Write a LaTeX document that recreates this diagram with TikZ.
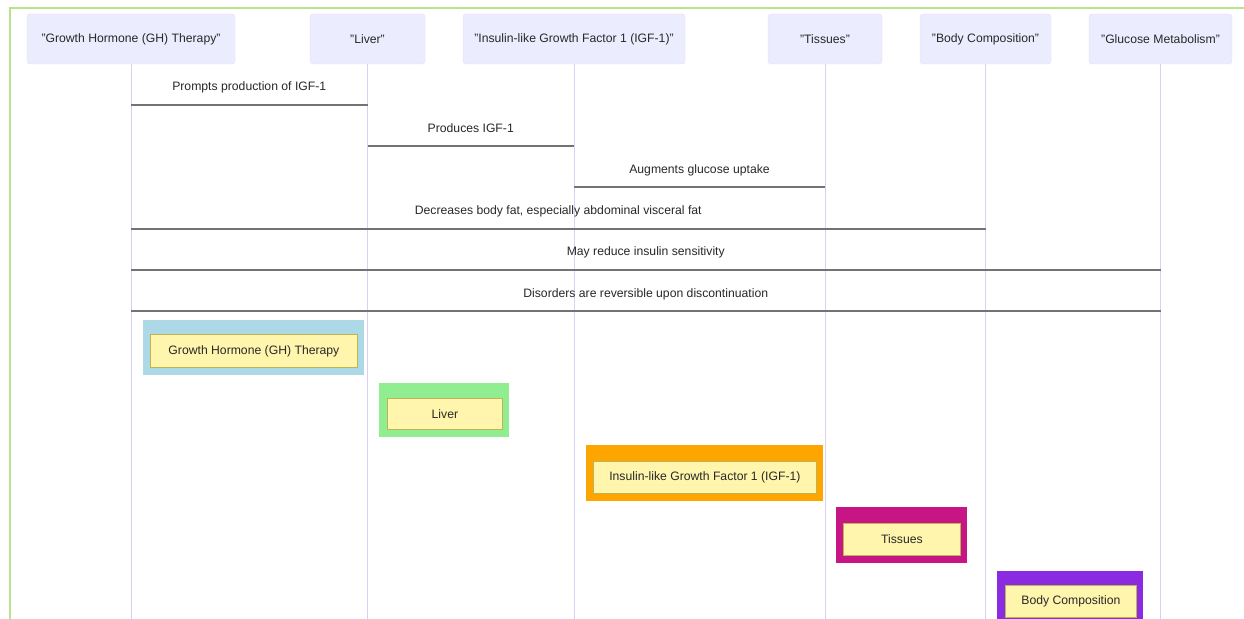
\documentclass[tikz,border=0pt]{standalone}
\usepackage{fontspec}
\setmainfont{Liberation Sans}
\definecolor{actorfill}{RGB}{236,236,255}
\definecolor{actorline}{RGB}{226,226,250}
\definecolor{lifeline}{RGB}{218,208,245}
\definecolor{msgline}{RGB}{115,115,115}
\definecolor{frame}{RGB}{184,226,140}
\definecolor{notefill}{RGB}{255,245,173}
\definecolor{noteline}{RGB}{190,180,80}
\definecolor{cblue}{RGB}{173,216,230}
\definecolor{cgreen}{RGB}{144,238,144}
\definecolor{corange}{RGB}{255,165,0}
\definecolor{cmagenta}{RGB}{199,21,133}
\definecolor{cpurple}{RGB}{138,43,226}
\definecolor{txt}{RGB}{40,40,40}
\begin{document}
\begin{tikzpicture}[x=1pt,y=-1pt,
  actorbox/.style={fill=actorfill, draw=actorline, rounded corners=3pt, inner sep=0pt, minimum height=50,
    font=\fontsize{12.2}{14}\selectfont, text=txt},
  life/.style={draw=lifeline, line width=1pt},
  msg/.style={draw=msgline, line width=2pt},
  msgtext/.style={font=\fontsize{12.2}{14}\selectfont, text=txt, inner sep=0pt},
  outerbox/.style={inner sep=0pt, anchor=north west},
  innerbox/.style={fill=notefill, draw=noteline, line width=0.8pt, inner sep=0pt, anchor=north west,
    font=\fontsize{12.2}{14}\selectfont, text=txt}
]
\useasboundingbox (0,0) rectangle (1244,618);
\clip (0,0) rectangle (1244,618);
\fill[white] (0,0) rectangle (1244,618);
% frame
\coordinate (fa) at (10,620);
\coordinate (fb) at (10,8);
\coordinate (fc) at (1246,8);
\draw[frame, line width=1.2pt] (fa) -- (fb) -- (fc);

% actors
\node[actorbox, minimum width=208] (gh) at (131,39) {"Growth Hormone (GH) Therapy"};
\node[actorbox, minimum width=115] (liver) at (367.5,39) {"Liver"};
\node[actorbox, minimum width=222] (igf) at (574,39) {"Insulin-like Growth Factor 1 (IGF-1)"};
\node[actorbox, minimum width=114] (tis) at (825,39) {"Tissues"};
\node[actorbox, minimum width=131] (body) at (985.5,39) {"Body Composition"};
\node[actorbox, minimum width=143] (glu) at (1160.5,39) {"Glucose Metabolism"};

\coordinate (bottom) at (0,625);
\foreach \a in {gh,liver,igf,tis,body,glu}{
  \draw[life] (\a.south) -- (\a.south |- bottom);
}

% message rows
\coordinate (r1) at (0,105);
\coordinate (r2) at (0,146);
\coordinate (r3) at (0,187);
\coordinate (r4) at (0,229);
\coordinate (r5) at (0,270);
\coordinate (r6) at (0,311);

\draw[msg] (gh.south |- r1) -- (liver.south |- r1)
  node[msgtext, midway, yshift=17.5] (t1) {Prompts production of IGF-1};
\draw[msg] (liver.south |- r2) -- (igf.south |- r2)
  node[msgtext, midway, yshift=17.5] (t2) {Produces IGF-1};
\draw[msg] (igf.south |- r3) -- (tis.south |- r3)
  node[msgtext, midway, yshift=16.5] (t3) {Augments glucose uptake};
\draw[msg] (gh.south |- r4) -- (body.south |- r4)
  node[msgtext, midway, yshift=17.5] (t4) {Decreases body fat, especially abdominal visceral fat};
\draw[msg] (gh.south |- r5) -- (glu.south |- r5)
  node[msgtext, midway, yshift=17.5] (t5) {May reduce insulin sensitivity};
\draw[msg] (gh.south |- r6) -- (glu.south |- r6)
  node[msgtext, midway, yshift=16.5] (t6) {Disorders are reversible upon discontinuation};

% notes
\node[outerbox, fill=cblue, minimum width=221, minimum height=55] (o1) at (143,320) {};
\node[innerbox, minimum width=207, minimum height=33] (n1) at (150,334) {Growth Hormone (GH) Therapy};

\node[outerbox, fill=cgreen, minimum width=130, minimum height=54] (o2) at (379,383) {};
\node[innerbox, minimum width=115, minimum height=31] (n2) at (387,398) {Liver};

\node[outerbox, fill=corange, minimum width=237, minimum height=56] (o3) at (586,445) {};
\node[innerbox, minimum width=223, minimum height=32] (n3) at (593,461) {Insulin-like Growth Factor 1 (IGF-1)};

\node[outerbox, fill=cmagenta, minimum width=131, minimum height=56] (o4) at (836,507) {};
\node[innerbox, minimum width=117, minimum height=32] (n4) at (843,523) {Tissues};

\node[outerbox, fill=cpurple, minimum width=146, minimum height=56] (o5) at (997,571) {};
\node[innerbox, minimum width=131, minimum height=32] (n5) at (1005,585) {Body Composition};
\end{tikzpicture}
\end{document}
